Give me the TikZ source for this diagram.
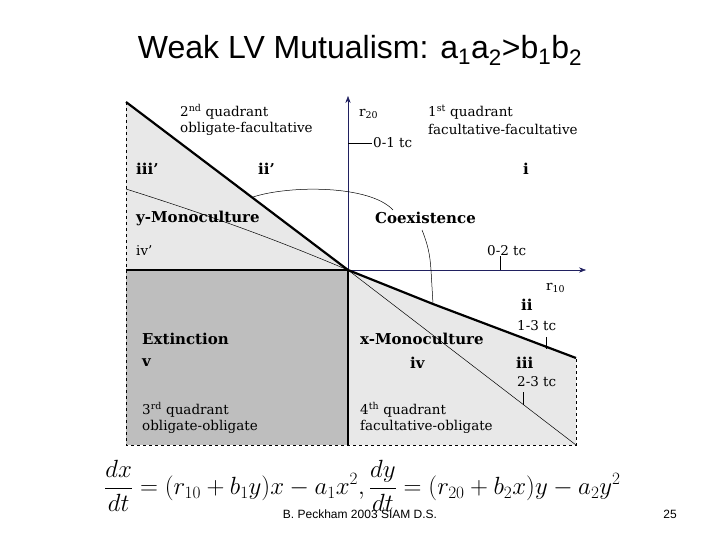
\documentclass[tikz,border=0pt]{standalone}
\usepackage{fontspec}
\setmainfont{DejaVu Serif}
\newfontfamily\arialf{Liberation Sans}
\usetikzlibrary{arrows.meta}
\definecolor{lg}{HTML}{E8E8E8}
\definecolor{dg}{HTML}{BEBEBE}
\definecolor{ax}{HTML}{202060}
\begin{document}
\begin{tikzpicture}[x=1pt,y=-1pt,
  lab/.style={font=\fontsize{13.5}{15}\selectfont,anchor=west,inner sep=0pt},
  blab/.style={lab,font=\fontsize{15}{17}\selectfont\bfseries},
  thick2/.style={line width=2.2pt},
  thin1/.style={line width=0.5pt}]
\useasboundingbox (0,0) rectangle (720,540);
% fills
\fill[lg] (126,102) -- (348,270) -- (126,270) -- cycle;
\fill[lg] (348,270) -- (433,304) -- (576,358) -- (576,445) -- (348,445) -- cycle;
\fill[dg] (126,270) rectangle (348,445);
% dashed frame
\draw[dashed,thin1] (126,102) -- (126,445) -- (576,445) -- (576,358);
% axes
\coordinate (O) at (348,270);
\coordinate (ytop) at (348,96);
\coordinate (xend) at (586,270);
\draw[ax,thin1,-{Stealth[length=7pt]}] (O) -- (ytop);
\draw[ax,thin1,-{Stealth[length=7pt]}] (O) -- (xend);
% thick boundaries
\draw[thick2] (126,102) -- (O);
\draw[thick2] (126,270) -- (O) -- (348,445);
\draw[thick2] (O) -- (433,304) -- (576,358);
% thin lines
\draw[thin1] (126,189) .. controls (240,225) and (300,250) .. (O);
\draw[thin1] (O) -- (576,445);
% curves
\draw[thin1] (253,197) .. controls (290,185) and (370,185) .. (393,210);
\draw[thin1] (422,230) .. controls (428,245) and (430,255) .. (431,270) -- (433,304);
% ticks
\draw[thin1] (348,143) -- (372,143);
\draw[thin1] (500,256) -- (500,270);
\draw[thin1] (546,337) -- (546,349);
\draw[thin1] (523,392) -- (523,405);
% title
\node[font=\arialf\fontsize{32}{36}\selectfont] (title) at (360,50) {Weak LV Mutualism: a\textsubscript{1}a\textsubscript{2}>b\textsubscript{1}b\textsubscript{2}};
% labels
\node[lab] (q2) at (180,112) {2\textsuperscript{nd} quadrant};
\node[lab] (q2b) at (180,129) {obligate-facultative};
\node[lab] (r20) at (359,114) {r\textsubscript{20}};
\node[lab] (q1) at (428,112) {1\textsuperscript{st} quadrant};
\node[lab] (q1b) at (428,129) {facultative-facultative};
\node[lab] (t01) at (373,143) {0-1 tc};
\node[blab] (iiip) at (136,169) {iii'};
\node[blab] (iip) at (258,169) {ii'};
\node[blab] (i) at (523,169) {i};
\node[blab] (ymono) at (136,218) {y-Monoculture};
\node[blab] (coex) at (375,218) {Coexistence};
\node[lab] (ivp) at (136,251) {iv'};
\node[lab] (t02) at (487,251) {0-2 tc};
\node[lab] (r10) at (546,288) {r\textsubscript{10}};
\node[blab] (ii) at (521,305) {ii};
\node[lab] (t13) at (517,326) {1-3 tc};
\node[blab] (ext) at (142,339) {Extinction};
\node[blab] (xmono) at (360,339) {x-Monoculture};
\node[blab] (v) at (142,363) {v};
\node[blab] (iv) at (410,363) {iv};
\node[blab] (iii) at (516,363) {iii};
\node[lab] (t23) at (517,382) {2-3 tc};
\node[lab] (q3) at (142,410) {3\textsuperscript{rd} quadrant};
\node[lab] (q3b) at (142,427) {obligate-obligate};
\node[lab] (q4) at (360,410) {4\textsuperscript{th} quadrant};
\node[lab] (q4b) at (360,427) {facultative-obligate};
% equation
\node[anchor=west,inner sep=0pt,font=\fontsize{24}{28}\selectfont] (eq) at (104,486)
 {$\displaystyle\frac{dx}{dt}=(r_{10}+b_1y)x-a_1x^2,\frac{dy}{dt}=(r_{20}+b_2x)y-a_2y^2$};
\node[font=\arialf\fontsize{12}{14}\selectfont] (foot) at (360,514) {B. Peckham 2003 SIAM D.S.};
\node[font=\arialf\fontsize{12}{14}\selectfont] (pg) at (670,514) {25};
\end{tikzpicture}
\end{document}
